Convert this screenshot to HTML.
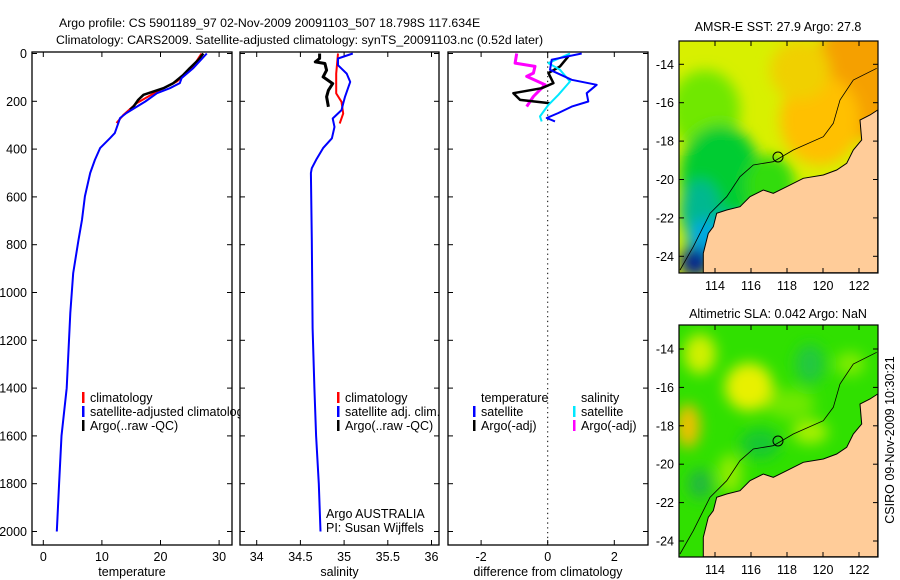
<!DOCTYPE html>
<html><head><meta charset="utf-8"><style>
html,body{margin:0;padding:0;background:#fff;}
svg{display:block;font-family:"Liberation Sans",sans-serif;}
text{font-size:12.5px;fill:#000;}
</style></head><body>
<svg id="fig" width="900" height="580" viewBox="0 0 900 580">
<defs>
<filter id="blur" x="-20%" y="-20%" width="140%" height="140%"><feGaussianBlur stdDeviation="7"/></filter>
<clipPath id="c1"><rect x="32" y="52" width="200" height="493"/></clipPath>
<clipPath id="c2"><rect x="240" y="52" width="199" height="493"/></clipPath>
<clipPath id="c3"><rect x="448" y="52" width="200" height="493"/></clipPath>
<clipPath id="cm1"><rect x="679" y="41" width="199" height="232"/></clipPath>
<clipPath id="cm2"><rect x="679" y="325" width="199" height="232"/></clipPath>
<clipPath id="cleg1"><rect x="32" y="380" width="208" height="60"/></clipPath>
</defs>
<text x="59" y="27" style="font-size:12.3px">Argo profile: CS 5901189_97 02-Nov-2009 20091103_507 18.798S 117.634E</text>
<text x="56" y="44" style="font-size:12.3px">Climatology: CARS2009. Satellite-adjusted climatology: synTS_20091103.nc (0.52d later)</text>
<g id="plots"></g>
<g id="maps"></g>
<text x="778" y="31" text-anchor="middle">AMSR-E SST: 27.9 Argo: 27.8</text>
<text x="778" y="318" text-anchor="middle">Altimetric SLA: 0.042 Argo: NaN</text>
<text transform="translate(894,440) rotate(-90)" text-anchor="middle">CSIRO 09-Nov-2009 10:30:21</text>
</svg>
<script>
// ---- data ----
const depthTicks=[0,200,400,600,800,1000,1200,1400,1600,1800,2000];
const tempTicks=[0,10,20,30];
const salTicks=[34,34.5,35,35.5,36];
const salTickLabels=["34","34.5","35","35.5","36"];
const diffTicks=[-2,0,2];
const satTempDepth=[0,61,103,124,145,166,201,249,270,333,354,396,445,500,598,696,780,919,1086,1400,1600,1800,2000];
const satTemp=[27.9,25.6,23.6,23.3,21.6,19.4,17.4,14.2,13.1,12.2,11.4,9.7,8.8,8.0,7.1,6.6,6.0,5.1,4.6,4.0,3.1,2.7,2.3];
const climTempDepth=[0,61,117,159,208,256,291];
const climTemp=[27.0,25.4,22.8,19.4,15.9,13.7,12.5];
const argoTempDepth=[0,26,61,89,124,145,173,194,222,235];
const argoTemp=[27.3,26.5,25.0,23.9,22.2,20.5,17.1,16.2,15.4,14.8];
const satSalDepth=[0,21,49,84,119,181,209,237,272,307,355,396,445,480,500,780,1150,1400,1600,1800,2000];
const satSal=[35.10,34.93,34.93,35.03,35.07,35.01,34.99,34.97,34.87,34.89,34.86,34.76,34.68,34.63,34.62,34.63,34.64,34.66,34.68,34.71,34.73];
const climSalDepth=[0,84,167,202,251,293];
const climSal=[34.93,34.91,34.91,34.97,34.99,34.95];
const argoSalDepth=[0,21,35,42,70,98,126,154,181,223];
const argoSal=[34.72,34.72,34.67,34.78,34.80,34.76,34.87,34.82,34.80,34.82];
const dTempSatDepth=[0,26,68,110,131,166,201,222,249,270,284];
const dTempSat=[1.02,0.12,0.07,0.72,1.47,1.17,1.22,0.72,0.32,-0.03,0.22];
const dSalSatDepth=[0,40,68,117,173,215,263,284];
const dSalSat=[0.67,0.02,0.37,0.67,0.32,0.02,-0.23,-0.18];
const dTempArgoDepth=[12,54,82,124,145,166,194,208];
const dTempArgo=[0.62,0.37,0.02,0.17,-0.18,-1.03,-0.83,0.07];
const dSalArgoDepth=[0,40,54,82,96,131,180,222];
const dSalArgo=[-0.93,-0.98,-0.38,-0.43,-0.63,-0.08,-0.43,-0.63];
const lonTicks=[114,116,118,120,122];
const latTicks=[-14,-16,-18,-20,-22,-24];

// ---- axes ----
const NS='http://www.w3.org/2000/svg';
const yD=d=>53.5+d*0.239;
const xT=t=>43.3+t*5.86;
const xS=s=>256.7+(s-34)*87.4;
const xF=v=>547.7+v*33.3;
const plots=document.getElementById('plots');
function mk(tag,attrs,parent){const e=document.createElementNS(NS,tag);for(const k in attrs)e.setAttribute(k,attrs[k]);(parent||plots).appendChild(e);return e;}
function panel(x0,x1,xticks,xfn,labels,xlabel,name,showY){
  const g=mk('g',{});
  
  
  mk('rect',{x:x0,y:52,width:x1-x0,height:493,fill:'none',stroke:'#000','stroke-width':1.3},g);
  depthTicks.forEach(d=>{const y=yD(d);
    mk('line',{x1:x0,x2:x0+5,y1:y,y2:y,stroke:'#000'},g);
    mk('line',{x1:x1-5,x2:x1,y1:y,y2:y,stroke:'#000'},g);
    if(showY){const t=mk('text',{x:x0-5,y:y+4.5,'text-anchor':'end'},g);t.textContent=d;
      
      }
  });
  xticks.forEach((v,i)=>{const x=xfn(v);
    mk('line',{x1:x,x2:x,y1:545,y2:540,stroke:'#000'},g);
    mk('line',{x1:x,x2:x,y1:52,y2:57,stroke:'#000'},g);
    const t=mk('text',{x:x,y:561,'text-anchor':'middle'},g);t.textContent=labels[i];
    
    
  });
  const xl=mk('text',{x:(x0+x1)/2,y:576,'text-anchor':'middle'},g);xl.textContent=xlabel;
  
  
}
panel(32,232,tempTicks,xT,tempTicks.map(String),'temperature','temperature-panel',true);
panel(240,439,salTicks,xS,salTickLabels,'salinity','salinity-panel',false);
panel(448,648,diffTicks,xF,diffTicks.map(String),'difference from climatology','difference-panel',false);
mk('line',{x1:xF(0),x2:xF(0),y1:52,y2:545,stroke:'#000','stroke-dasharray':'1.3,3.5'});

function series(xs,ds,xfn,color,w,clip,name){
  const pts=xs.map((v,i)=>xfn(v).toFixed(1)+','+yD(ds[i]).toFixed(1)).join(' ');
  const p=mk('polyline',{points:pts,fill:'none',stroke:color,'stroke-width':w,'stroke-linejoin':'round','clip-path':'url(#'+clip+')'});
  
  
}
series(climTemp,climTempDepth,xT,'#ff0000',2,'c1','climatology-temp-line');
series(argoTemp,argoTempDepth,xT,'#000',2.5,'c1','argo-temp-line');
series(satTemp,satTempDepth,xT,'#0000ff',2,'c1','satellite-temp-line');
series(climSal,climSalDepth,xS,'#ff0000',2,'c2','climatology-salinity-line');
series(argoSal,argoSalDepth,xS,'#000',3,'c2','argo-salinity-line');
series(satSal,satSalDepth,xS,'#0000ff',2,'c2','satellite-salinity-line');
series(dSalArgo,dSalArgoDepth,xF,'#ff00ff',3,'c3','argo-salinity-diff-line');
series(dTempArgo,dTempArgoDepth,xF,'#000',2.5,'c3','argo-temp-diff-line');
series(dSalSat,dSalSatDepth,xF,'#00e8ff',2,'c3','satellite-salinity-diff-line');
series(dTempSat,dTempSatDepth,xF,'#0000ff',2,'c3','satellite-temp-diff-line');

function legend(x,y,color,label,clip){
  const g=mk('g',clip?{'clip-path':'url(#'+clip+')'}:{});
  
  
  if(color) mk('rect',{x:x,y:y-10,width:2.5,height:11,fill:color},g);
  const t=mk('text',{x:x+8,y:y},g);t.textContent=label;
}
legend(82,402,'#ff0000','climatology','cleg1');
legend(82,416,'#0000ff','satellite-adjusted climatology','cleg1');
legend(82,430,'#000','Argo(..raw -QC)','cleg1');
legend(337,402,'#ff0000','climatology');
legend(337,416,'#0000ff','satellite adj. clim.');
legend(337,430,'#000','Argo(..raw -QC)');
legend(473,402,null,'temperature');
legend(473,416,'#0000ff','satellite');
legend(473,430,'#000','Argo(-adj)');
legend(573,402,null,'salinity');
legend(573,416,'#00e8ff','satellite');
legend(573,430,'#ff00ff','Argo(-adj)');
const a1=mk('text',{x:326,y:518});a1.textContent='Argo AUSTRALIA';


const a2=mk('text',{x:326,y:532});a2.textContent='PI: Susan Wijffels';



// ---- maps ----
const maps=document.getElementById('maps');
const xLon=l=>715+(l-114)*18;
function mm(tag,attrs,parent){const e=document.createElementNS(NS,tag);for(const k in attrs)e.setAttribute(k,attrs[k]);(parent||maps).appendChild(e);return e;}
const coast=[[653,210],[630,225],[600,240],[605,300],[580,330],[560,370],[530,390],[490,405],[430,415],[380,440],[340,460],[310,450],[270,470],[240,500],[200,510],[170,520],[160,560],[145,580],[130,640],[130,698],[653,698]];
const shelf=[[60,690],[100,620],[150,520],[200,470],[240,410],[280,375],[340,365],[400,330],[490,290],[520,250],[540,180],[580,120],[650,85]];
function mapPanel(top,lat14,clip,name,fields){
  const g=mm('g',{});
  
  
  const dy=top-41;
  const cg=mm('g',{'clip-path':'url(#'+clip+')'},g);
  mm('rect',{x:679,y:top,width:199,height:232,fill:fields.base},cg);
  const bg=mm('g',{filter:'url(#blur)'},cg);
  fields.blobs.forEach(b=>mm('ellipse',{cx:b[0],cy:b[1]+dy,rx:b[2],ry:b[3],fill:b[4]},bg));
  const cpts=coast.map(p=>(660+p[0]/3).toFixed(1)+','+(40+p[1]/3+dy).toFixed(1)).join(' ');
  mm('polygon',{points:cpts,fill:'#ffcc99',stroke:'#000','stroke-width':1},cg);
  const spts=shelf.map(p=>(660+p[0]/3).toFixed(1)+','+(40+p[1]/3+dy).toFixed(1)).join(' ');
  mm('polyline',{points:spts,fill:'none',stroke:'#000','stroke-width':0.8},cg);
  mm('circle',{cx:778,cy:157+dy,r:5,fill:'none',stroke:'#000'},cg);
  mm('rect',{x:679,y:top,width:199,height:232,fill:'none',stroke:'#000','stroke-width':1.2},g);
  lonTicks.forEach(l=>{const x=xLon(l);
    mm('line',{x1:x,x2:x,y1:top+232,y2:top+227,stroke:'#000'},g);
    mm('line',{x1:x,x2:x,y1:top,y2:top+5,stroke:'#000'},g);
    const t=mm('text',{x:x,y:top+249,'text-anchor':'middle'},g);t.textContent=l;});
  latTicks.forEach(l=>{const y=lat14+(-14-l)*19.2;
    mm('line',{x1:679,x2:684,y1:y,y2:y,stroke:'#000'},g);
    mm('line',{x1:873,x2:878,y1:y,y2:y,stroke:'#000'},g);
    const t=mm('text',{x:674,y:y+4.5,'text-anchor':'end'},g);t.textContent=l;});
}
mapPanel(41,64.3,'cm1','sst-map',{base:'#d8f000',blobs:[
 [860,80,50,60,'#f5a000'],[820,120,40,45,'#ffc000'],[800,70,30,30,'#f0d000'],
 [705,110,35,40,'#70e800'],[720,175,40,50,'#00cc30'],[770,185,25,30,'#30dc10'],
 [700,210,20,30,'#00b890'],[705,240,18,20,'#00a8e0'],[695,262,15,15,'#002090'],[730,225,15,10,'#00b8d0']]});
mapPanel(325,349,'cm2','sla-map',{base:'#30e000',blobs:[
 [749,103,24,24,'#e8f000'],[700,70,16,20,'#d0f000'],[688,142,12,22,'#f0c000'],
 [810,148,18,12,'#a8f000'],[790,120,25,15,'#70e800'],[760,160,20,15,'#18c830'],
 [730,190,12,20,'#90ec00'],[700,200,12,15,'#20b840'],[850,80,15,12,'#80ec00'],[810,80,15,20,'#20c840']]});
</script>
</body></html>
